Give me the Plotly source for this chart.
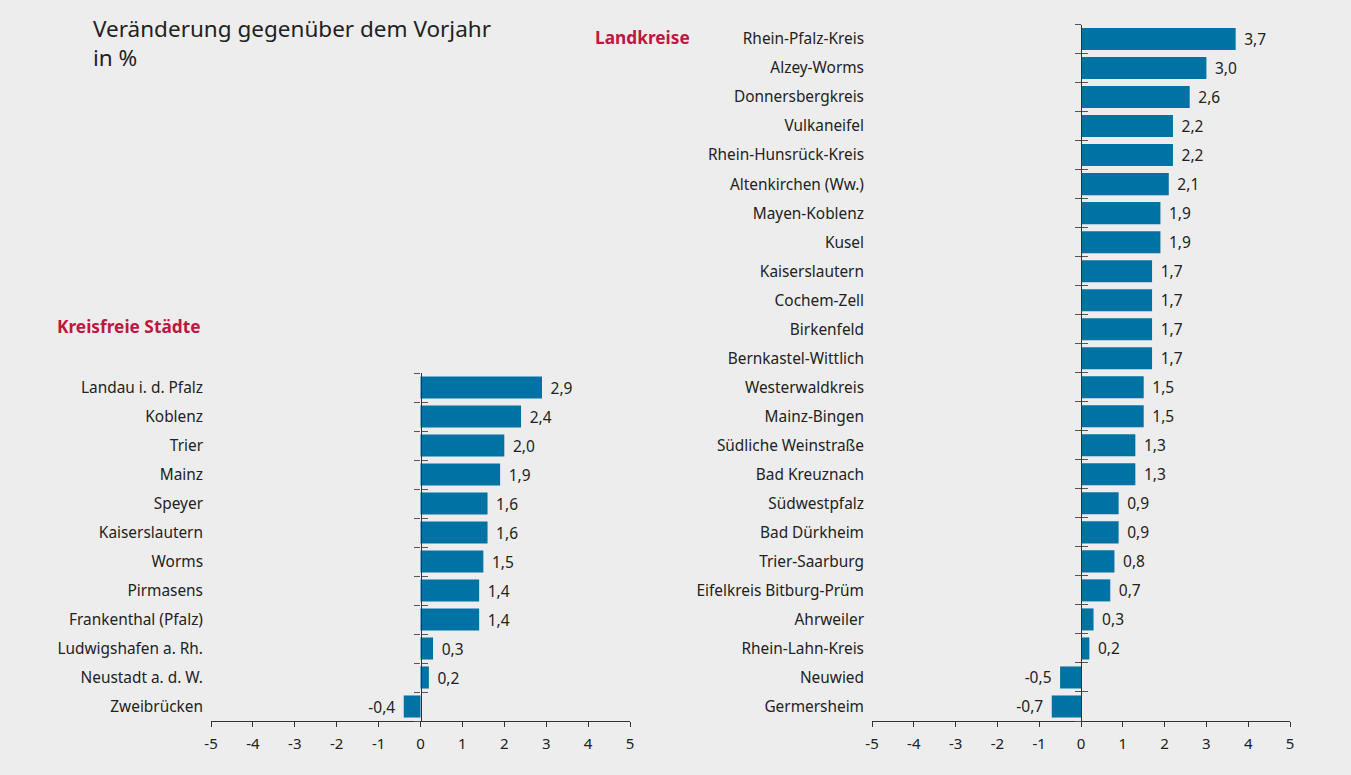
import plotly.graph_objects as go

staedte = ["Landau i. d. Pfalz", "Koblenz", "Trier", "Mainz", "Speyer", "Kaiserslautern",
           "Worms", "Pirmasens", "Frankenthal (Pfalz)", "Ludwigshafen a. Rh.",
           "Neustadt a. d. W.", "Zweibrücken"]
staedte_vals = [2.9, 2.4, 2.0, 1.9, 1.6, 1.6, 1.5, 1.4, 1.4, 0.3, 0.2, -0.4]

kreise = ["Rhein-Pfalz-Kreis", "Alzey-Worms", "Donnersbergkreis", "Vulkaneifel",
          "Rhein-Hunsrück-Kreis", "Altenkirchen (Ww.)", "Mayen-Koblenz", "Kusel",
          "Kaiserslautern", "Cochem-Zell", "Birkenfeld", "Bernkastel-Wittlich",
          "Westerwaldkreis", "Mainz-Bingen", "Südliche Weinstraße", "Bad Kreuznach",
          "Südwestpfalz", "Bad Dürkheim", "Trier-Saarburg", "Eifelkreis Bitburg-Prüm",
          "Ahrweiler", "Rhein-Lahn-Kreis", "Neuwied", "Germersheim"]
kreise_vals = [3.7, 3.0, 2.6, 2.2, 2.2, 2.1, 1.9, 1.9, 1.7, 1.7, 1.7, 1.7,
               1.5, 1.5, 1.3, 1.3, 0.9, 0.9, 0.8, 0.7, 0.3, 0.2, -0.5, -0.7]

x_ticks = [-5, -4, -3, -2, -1, 0, 1, 2, 3, 4, 5]

BAR = "#0072a3"
BG = "#ededed"
TXT = "#222222"
RED = "#c0163f"
FONT = "Noto Sans"
W, H = 1351, 775
M = 20  # uniform margin


def px(x):
    return (x - M) / (W - 2 * M)


def py(y):
    return (H - M - y) / (H - 2 * M)


def fmt(v):
    s = f"{v:.1f}".replace(".", ",")
    return (" \u200a" + s) if v >= 0 else (s + " \u200a")


# domains
L_x = [px(211), px(630)]
R_x = [px(872), px(1290)]
L_y = [py(721), py(373)]
R_y = [py(721), py(24.5)]

fig = go.Figure()

fig.add_trace(go.Bar(
    x=staedte_vals, y=staedte, orientation="h", xaxis="x", yaxis="y",
    marker=dict(color=BAR, line=dict(width=0)), width=0.76,
    text=[fmt(v) for v in staedte_vals], textposition="outside",
    textfont=dict(family=FONT, size=15.5, color=TXT), cliponaxis=False,
    hoverinfo="skip", showlegend=False))

fig.add_trace(go.Bar(
    x=kreise_vals, y=kreise, orientation="h", xaxis="x2", yaxis="y2",
    marker=dict(color=BAR, line=dict(width=0)), width=0.76,
    text=[fmt(v) for v in kreise_vals], textposition="outside",
    textfont=dict(family=FONT, size=15.5, color=TXT), cliponaxis=False,
    hoverinfo="skip", showlegend=False))

# empty traces to carry the zero-axis overlays
for xa, ya in [("x", "y3"), ("x", "y4"), ("x2", "y5"), ("x2", "y6")]:
    fig.add_trace(go.Scatter(x=[None], y=[None], xaxis=xa, yaxis=ya,
                             showlegend=False, hoverinfo="skip"))

xa_common = dict(range=[-5, 5], tickvals=x_ticks, ticktext=[str(t) for t in x_ticks],
                 showgrid=False, zeroline=False, showline=True, linecolor="#333",
                 linewidth=1.3, ticks="outside", ticklen=5, tickcolor="#333",
                 ticklabelstandoff=4,
                 tickfont=dict(family=FONT, size=15, color=TXT), fixedrange=True)

ya_common = dict(showgrid=False, zeroline=False, showline=False, ticks="",
                 tickfont=dict(family=FONT, size=15.4, color=TXT), autorange="reversed",
                 ticklabelstandoff=7, fixedrange=True)


def zero_axis(n, dom, pos, side_ticks, over):
    return dict(overlaying=over, anchor="free", position=pos, domain=dom,
                range=[-0.5, n - 0.5], tickvals=[i - 0.5 for i in range(n + 1)],
                ticks=side_ticks, ticklen=6, tickcolor="#555", tickwidth=1.3,
                showticklabels=False, showline=True, linecolor="#333", linewidth=1.3,
                showgrid=False, zeroline=False, fixedrange=True)


nL, nR = len(staedte), len(kreise)
posL = (L_x[0] + L_x[1]) / 2
posR = (R_x[0] + R_x[1]) / 2

fig.update_layout(
    width=W, height=H,
    paper_bgcolor=BG, plot_bgcolor="rgba(0,0,0,0)",
    margin=dict(l=M, r=M, t=M, b=M, autoexpand=False),
    font=dict(family=FONT, color=TXT),
    xaxis=dict(domain=L_x, anchor="y", **xa_common),
    yaxis=dict(domain=L_y, anchor="x", categoryarray=staedte, type="category", **ya_common),
    xaxis2=dict(domain=R_x, anchor="y2", **xa_common),
    yaxis2=dict(domain=R_y, anchor="x2", categoryarray=kreise, type="category", **ya_common),
    yaxis3=zero_axis(nL, L_y, posL, "outside", "y"),
    yaxis4=zero_axis(nL, L_y, posL, "inside", "y"),
    yaxis5=zero_axis(nR, R_y, posR, "outside", "y2"),
    yaxis6=zero_axis(nR, R_y, posR, "inside", "y2"),
    annotations=[
        dict(text="Veränderung gegenüber dem Vorjahr<br>in %", x=px(91), y=py(11),
             xref="paper", yref="paper", xanchor="left", yanchor="top", align="left",
             showarrow=False, font=dict(family=FONT, size=22.5, color=TXT)),
        dict(text="<b>Kreisfreie Städte</b>", x=px(55), y=py(326),
             xref="paper", yref="paper", xanchor="left", yanchor="middle",
             showarrow=False, font=dict(family=FONT, size=17.3, color=RED)),
        dict(text="<b>Landkreise</b>", x=px(593), y=py(38),
             xref="paper", yref="paper", xanchor="left", yanchor="middle",
             showarrow=False, font=dict(family=FONT, size=17.3, color=RED)),
    ],
)

fig.write_html("out.html",
               config={"displayModeBar": False},
               post_script="document.body.style.margin='0';"
                           "document.body.style.overflow='hidden';"
                           "document.documentElement.style.overflow='hidden';"
                           "document.body.style.background='%s';" % BG)
